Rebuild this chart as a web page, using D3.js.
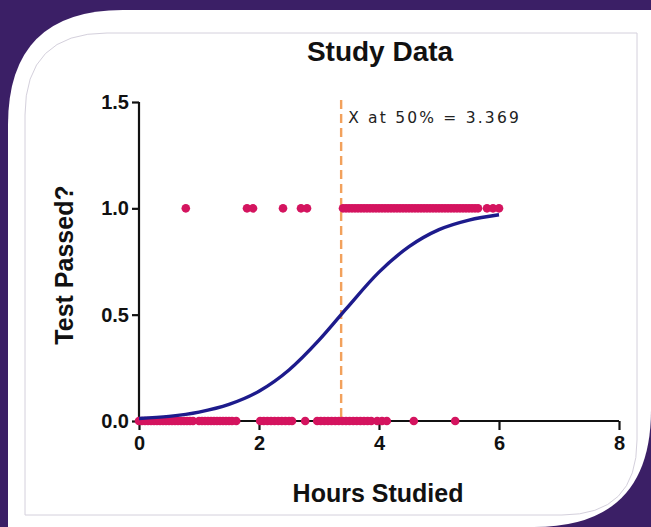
<!DOCTYPE html>
<html>
<head>
<meta charset="utf-8">
<script src="https://cdn.jsdelivr.net/npm/d3@7"></script>
<style>
  html, body { margin: 0; padding: 0; background: #3b1f66; }
  svg { display: block; }
</style>
</head>
<body>
<script>
// ---- Data ----
const passedHours = [0.78, 1.80, 1.90, 2.40, 2.70, 2.80,
  3.40, 3.45, 3.50, 3.55, 3.60, 3.65, 3.70, 3.75, 3.80, 3.85, 3.90, 3.95,
  4.00, 4.05, 4.10, 4.15, 4.20, 4.25, 4.30, 4.35, 4.40, 4.45, 4.50, 4.55,
  4.60, 4.65, 4.70, 4.75, 4.80, 4.85, 4.90, 4.95, 5.00, 5.05, 5.10, 5.15,
  5.20, 5.25, 5.30, 5.35, 5.40, 5.45, 5.50, 5.55, 5.60, 5.65, 5.80, 5.90, 6.00];
const failedHours = [0.00, 0.05, 0.10, 0.15, 0.20, 0.25, 0.30, 0.35, 0.40, 0.45,
  0.50, 0.55, 0.60, 0.65, 0.70, 0.75, 0.80, 0.85, 0.90, 1.00, 1.05, 1.10,
  1.15, 1.20, 1.25, 1.30, 1.35, 1.40, 1.45, 1.50, 1.55, 1.62,
  2.02, 2.08, 2.14, 2.20, 2.26, 2.32, 2.38, 2.44, 2.50, 2.55, 2.77,
  2.97, 3.03, 3.09, 3.15, 3.21, 3.27, 3.33, 3.39, 3.45, 3.51, 3.57, 3.63,
  3.69, 3.75, 3.81, 3.87, 3.97, 4.05, 4.13, 4.58, 5.27];
const curveX = [0, 0.5, 1, 1.5, 2, 2.5, 3, 3.369, 3.5, 4, 4.5, 5, 5.5, 6];
const curveY = [0.012, 0.022, 0.042, 0.078, 0.14, 0.24, 0.38, 0.5, 0.543, 0.70, 0.82, 0.90, 0.945, 0.97];
const x50 = 3.369;
const xTicks = [0, 2, 4, 6, 8];
const yTicks = [0, 0.5, 1.0, 1.5];
const titleText = "Study Data";
const xTitle = "Hours Studied";
const yTitle = "Test Passed?";
const annotText = "X at 50% = 3.369";

// ---- Layout ----
const W = 651, H = 527;
const svg = d3.select("body").append("svg").attr("width", W).attr("height", H);

// background & card
svg.append("rect").attr("width", W).attr("height", H).attr("fill", "#3b1f66");
svg.append("path")
  .attr("d", "M8,527 L8,125 Q8,10 123,10 L651,10 L651,410 Q651,527 534,527 Z")
  .attr("fill", "#ffffff");
svg.append("path")
  .attr("d", "M25,515 L25,115 Q25,33 107,33 L637,33 L637,440 Q637,515 562,515 Z")
  .attr("fill", "none").attr("stroke", "#d4d0dc").attr("stroke-width", 1);

const x = d3.scaleLinear().domain([0, 8]).range([139, 619]);
const y = d3.scaleLinear().domain([0, 1.5]).range([421, 102]);

const font = "'Liberation Sans', Arial, sans-serif";

// title
svg.append("text").attr("x", 380).attr("y", 61).attr("text-anchor", "middle")
  .attr("font-family", font).attr("font-weight", "bold").attr("font-size", 28)
  .attr("fill", "#111").text(titleText);

// dashed line
svg.append("line")
  .attr("x1", x(x50)).attr("x2", x(x50))
  .attr("y1", y(1.5) - 2).attr("y2", y(0))
  .attr("stroke", "#f2a15c").attr("stroke-width", 2.4)
  .attr("stroke-dasharray", "9,5");

svg.append("text").attr("x", x(x50) + 7).attr("y", 123)
  .attr("font-family", "'DejaVu Sans', sans-serif").attr("font-size", 15.5)
  .attr("letter-spacing", 2.2)
  .attr("fill", "#222").text(annotText);

// axes
const xAxis = svg.append("g").attr("transform", `translate(0,${y(0)})`)
  .call(d3.axisBottom(x).tickValues(xTicks).tickSize(9).tickPadding(3).tickFormat(d3.format("d")));
const yAxis = svg.append("g").attr("transform", `translate(${x(0)},0)`)
  .call(d3.axisLeft(y).tickValues(yTicks).tickSize(7).tickPadding(3).tickFormat(d3.format(".1f")));
[xAxis, yAxis].forEach(g => {
  g.attr("font-size", 20);
  g.select(".domain").attr("stroke", "#111").attr("stroke-width", 2.2);
  g.selectAll(".tick line").attr("stroke", "#111").attr("stroke-width", 2.2);
  g.selectAll(".tick text").attr("font-family", font).attr("font-weight", "bold")
    .style("font-size", "20px").attr("fill", "#111");
});
xAxis.select(".domain").attr("d", `M${x(0)},0H${x(8)}`);
yAxis.select(".domain").attr("d", `M0,${y(0)}V${y(1.5)}`);
xAxis.selectAll(".tick text").attr("dy", "0.85em");

// axis titles
svg.append("text").attr("x", 378).attr("y", 502).attr("text-anchor", "middle")
  .attr("font-family", font).attr("font-weight", "bold").attr("font-size", 25)
  .attr("fill", "#111").text(xTitle);
svg.append("text").attr("transform", `translate(73,265) rotate(-90)`)
  .attr("text-anchor", "middle")
  .attr("font-family", font).attr("font-weight", "bold").attr("font-size", 25)
  .attr("fill", "#111").text(yTitle);

// points
const ptColor = "#d4145f";
svg.append("g").selectAll("circle.p").data(passedHours).join("circle")
  .attr("cx", d => x(d)).attr("cy", y(1)).attr("r", 4.3).attr("fill", ptColor);
svg.append("g").selectAll("circle.f").data(failedHours).join("circle")
  .attr("cx", d => x(d)).attr("cy", y(0)).attr("r", 4.3).attr("fill", ptColor);

// fitted curve
const pts = curveX.map((d, i) => [d, curveY[i]]);
svg.append("path").datum(pts)
  .attr("d", d3.line().x(d => x(d[0])).y(d => y(d[1])).curve(d3.curveMonotoneX))
  .attr("fill", "none").attr("stroke", "#1d1b8c").attr("stroke-width", 3.4);
</script>
</body>
</html>
